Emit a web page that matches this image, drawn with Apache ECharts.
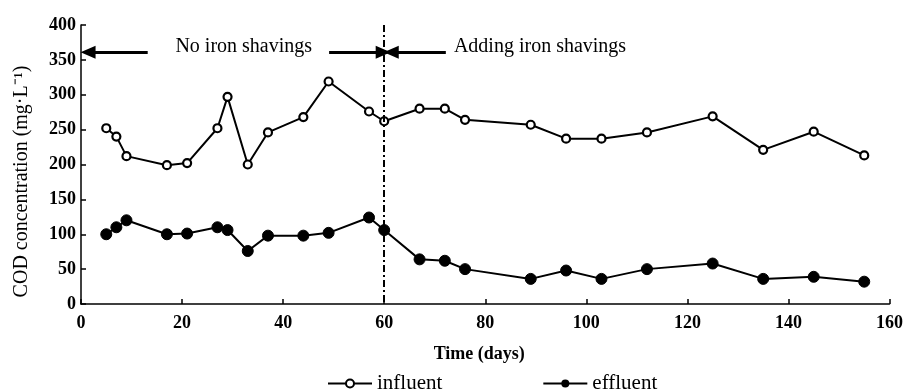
<!DOCTYPE html>
<html>
<head>
<meta charset="utf-8">
<script src="https://cdn.jsdelivr.net/npm/echarts@6/dist/echarts.min.js"></script>
<style>html,body{margin:0;padding:0;background:#fff}#c{width:906px;height:391px}</style>
</head>
<body>
<div id="c"></div>
<script>
const days = [5, 7, 9, 17, 21, 27, 29, 33, 37, 44, 49, 57, 60, 67, 72, 76, 89, 96, 103, 112, 125, 135, 145, 155];
const influent = [252, 240, 212, 199, 202, 252, 297, 200, 246, 268, 319, 276, 262, 280, 280, 264, 257, 237, 237, 246, 269, 221, 247, 213];
const effluent = [100, 110, 120, 100, 101, 110, 106, 76, 98, 98, 102, 124, 106, 64, 62, 50, 36, 48, 36, 50, 58, 36, 39, 32];
const xTicks = [0, 20, 40, 60, 80, 100, 120, 140, 160];
const yTicks = [0, 50, 100, 150, 200, 250, 300, 350, 400];
const changeDay = 60;
const arrowLevel = 361;
const textLevel = 369;

const serif = '"Liberation Serif", "Times New Roman", serif';
const chart = echarts.init(document.getElementById('c'));
const pair = (xs, ys) => xs.map((x, i) => [x, ys[i]]);

chart.setOption({
  animation: false,
  backgroundColor: '#fff',
  grid: { left: 81, right: 14, top: 25, bottom: 87 },
  legend: {
    bottom: -8, left: 322, itemGap: 100, itemWidth: 44, itemHeight: 10,
    textStyle: { fontFamily: serif, fontSize: 21, color: '#000' },
    data: ['influent', 'effluent']
  },
  xAxis: {
    type: 'value', min: xTicks[0], max: xTicks[xTicks.length - 1], interval: 20,
    name: 'Time (days)', nameLocation: 'middle', nameGap: 41,
    nameTextStyle: { fontFamily: serif, fontSize: 18, fontWeight: 'bold', color: '#000', padding: [0, 12, 0, 0] },
    axisLine: { lineStyle: { color: '#000', width: 1.5 } },
    axisTick: { inside: true, length: 5, lineStyle: { color: '#000', width: 1.5 } },
    axisLabel: { fontFamily: serif, fontSize: 18, fontWeight: 'bold', color: '#000', margin: 10 },
    splitLine: { show: false }
  },
  yAxis: {
    type: 'value', min: yTicks[0], max: yTicks[yTicks.length - 1], interval: 50,
    name: 'COD concentration (mg·L⁻¹)', nameLocation: 'middle', nameGap: 49, nameRotate: 90,
    nameTextStyle: { fontFamily: serif, fontSize: 20, color: '#000', padding: [0, 34, 0, 0] },
    axisLine: { show: true, lineStyle: { color: '#000', width: 1.5 } },
    axisTick: { show: true, inside: true, length: 5, lineStyle: { color: '#000', width: 1.5 } },
    axisLabel: { fontFamily: serif, fontSize: 18, fontWeight: 'bold', color: '#000', margin: 5 },
    splitLine: { show: false }
  },
  series: [
    {
      name: 'influent', type: 'line', data: pair(days, influent),
      symbol: 'circle', symbolSize: 8,
      itemStyle: { color: '#fff', borderColor: '#000', borderWidth: 2.2 },
      lineStyle: { color: '#000', width: 2 },
      markLine: {
        silent: true, animation: false,
        label: { show: false },
        data: [
          [{ coord: [changeDay, 400], symbol: 'none' }, { coord: [changeDay, 0], symbol: 'none' }]
        ],
        lineStyle: { color: '#000', width: 2, type: [7, 3, 2, 3] }
      }
    },
    {
      name: 'effluent', type: 'line', data: pair(days, effluent),
      symbol: 'circle', symbolSize: 11,
      itemStyle: { color: '#000', borderColor: '#000' },
      lineStyle: { color: '#000', width: 2 },
      markLine: {
        silent: true, animation: false,
        label: { show: false },
        symbol: ['none', 'triangle'], symbolSize: [13, 15],
        lineStyle: { color: '#000', width: 3, type: 'solid' },
        data: [
          [{ coord: [13.2, arrowLevel] }, { coord: [1.4, arrowLevel] }],
          [{ coord: [49.1, arrowLevel] }, { coord: [59.8, arrowLevel] }],
          [{ coord: [72.2, arrowLevel] }, { coord: [61.4, arrowLevel] }]
        ]
      },
      markPoint: {
        silent: true, symbol: 'circle', symbolSize: 0,
        label: { show: true, fontFamily: serif, fontSize: 20, color: '#000' },
        data: [
          { coord: [32.2, textLevel], label: { formatter: 'No iron shavings', align: 'center' } },
          { coord: [73.8, textLevel], label: { formatter: 'Adding iron shavings', align: 'left' } }
        ]
      }
    }
  ]
});
</script>
</body>
</html>
